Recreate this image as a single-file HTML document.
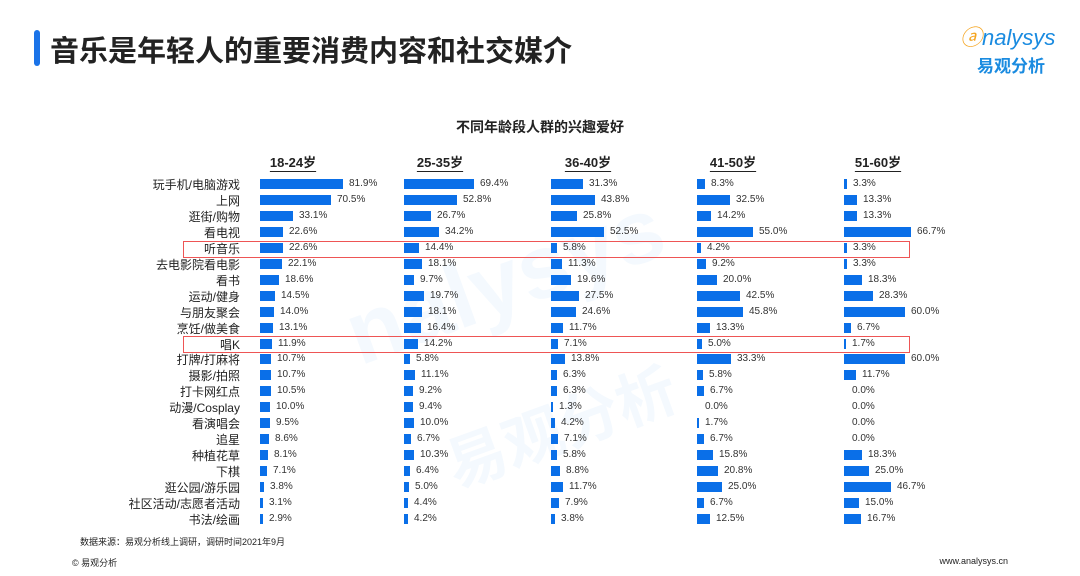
<!DOCTYPE html><html><head><meta charset="utf-8"><style>
body{margin:0;width:1080px;height:576px;background:#fff;position:relative;overflow:hidden;font-family:"Liberation Sans","Noto Sans CJK SC",sans-serif;color:#222}
.a{position:absolute;white-space:nowrap}
.bar{position:absolute;height:10px;background:#0a6fe8}
.v{position:absolute;font-size:10px;color:#333;line-height:12px}
.l{position:absolute;right:840px;font-size:12px;line-height:14px;text-align:right;color:#222}
.h{position:absolute;font-size:13px;font-weight:bold;text-decoration:underline;text-underline-offset:4px;transform:translateX(-50%)}
.box{position:absolute;left:183px;width:725px;height:15px;border:1px solid #e55}
</style></head><body>
<div class="a" style="left:34px;top:30px;width:6px;height:36px;background:#1a73e8;border-radius:3px"></div>
<div class="a" style="left:50px;top:28px;font-size:29px;color:#222;font-weight:bold">音乐是年轻人的重要消费内容和社交媒介</div>
<div class="a" style="left:960px;top:20px;font-size:22px;color:#1a8be0;font-style:italic"><span style="color:#f5a623">ⓐ</span>nalysys</div>
<div class="a" style="left:977px;top:52px;font-size:17px;color:#1a8be0;font-weight:bold">易观分析</div>
<div class="a" style="left:0;width:1080px;text-align:center;top:117px;font-size:14px;font-weight:bold">不同年龄段人群的兴趣爱好</div>
<div class="a" style="left:340px;top:230px;font-size:90px;color:rgba(40,130,230,0.05);font-weight:bold;transform:rotate(-20deg)">nalysys</div>
<div class="a" style="left:440px;top:380px;font-size:60px;color:rgba(40,130,230,0.05);font-weight:bold;transform:rotate(-20deg)">易观分析</div>
<div class="box" style="top:241px"></div><div class="box" style="top:336px"></div>
<div id="c"></div>
<div class="a" style="left:80px;top:535px;font-size:9px">数据来源：易观分析线上调研，调研时间2021年9月</div>
<div class="a" style="left:72px;top:556px;font-size:9px">© 易观分析</div>
<div class="a" style="right:72px;top:556px;font-size:9px">www.analysys.cn</div>
<script>
var H=["18-24岁","25-35岁","36-40岁","41-50岁","51-60岁"],X=[260,404,551,697,844],HC=[293,440,588,733,878];
var D=[["玩手机/电脑游戏",81.9,69.4,31.3,8.3,3.3],["上网",70.5,52.8,43.8,32.5,13.3],["逛街/购物",33.1,26.7,25.8,14.2,13.3],["看电视",22.6,34.2,52.5,55.0,66.7],["听音乐",22.6,14.4,5.8,4.2,3.3],["去电影院看电影",22.1,18.1,11.3,9.2,3.3],["看书",18.6,9.7,19.6,20.0,18.3],["运动/健身",14.5,19.7,27.5,42.5,28.3],["与朋友聚会",14.0,18.1,24.6,45.8,60.0],["烹饪/做美食",13.1,16.4,11.7,13.3,6.7],["唱K",11.9,14.2,7.1,5.0,1.7],["打牌/打麻将",10.7,5.8,13.8,33.3,60.0],["摄影/拍照",10.7,11.1,6.3,5.8,11.7],["打卡网红点",10.5,9.2,6.3,6.7,0.0],["动漫/Cosplay",10.0,9.4,1.3,0.0,0.0],["看演唱会",9.5,10.0,4.2,1.7,0.0],["追星",8.6,6.7,7.1,6.7,0.0],["种植花草",8.1,10.3,5.8,15.8,18.3],["下棋",7.1,6.4,8.8,20.8,25.0],["逛公园/游乐园",3.8,5.0,11.7,25.0,46.7],["社区活动/志愿者活动",3.1,4.4,7.9,6.7,15.0],["书法/绘画",2.9,4.2,3.8,12.5,16.7]];
var s="";
H.forEach(function(h,i){s+='<div class="h" style="left:'+HC[i]+'px;top:152px">'+h+'</div>';});
D.forEach(function(r,j){var y=184+j*15.95;
s+='<div class="l" style="top:'+(y-6)+'px">'+r[0]+'</div>';
for(var i=0;i<5;i++){var v=r[i+1],w=v>0?Math.max(2,Math.round(v*1.01)):0;
if(w)s+='<div class="bar" style="left:'+X[i]+'px;top:'+(y-5)+'px;width:'+w+'px"></div>';
s+='<div class="v" style="left:'+(X[i]+(w?w+6:8))+'px;top:'+(y-6)+'px">'+v.toFixed(1)+'%</div>';}
});
document.getElementById("c").innerHTML=s;
</script>
</body></html>
